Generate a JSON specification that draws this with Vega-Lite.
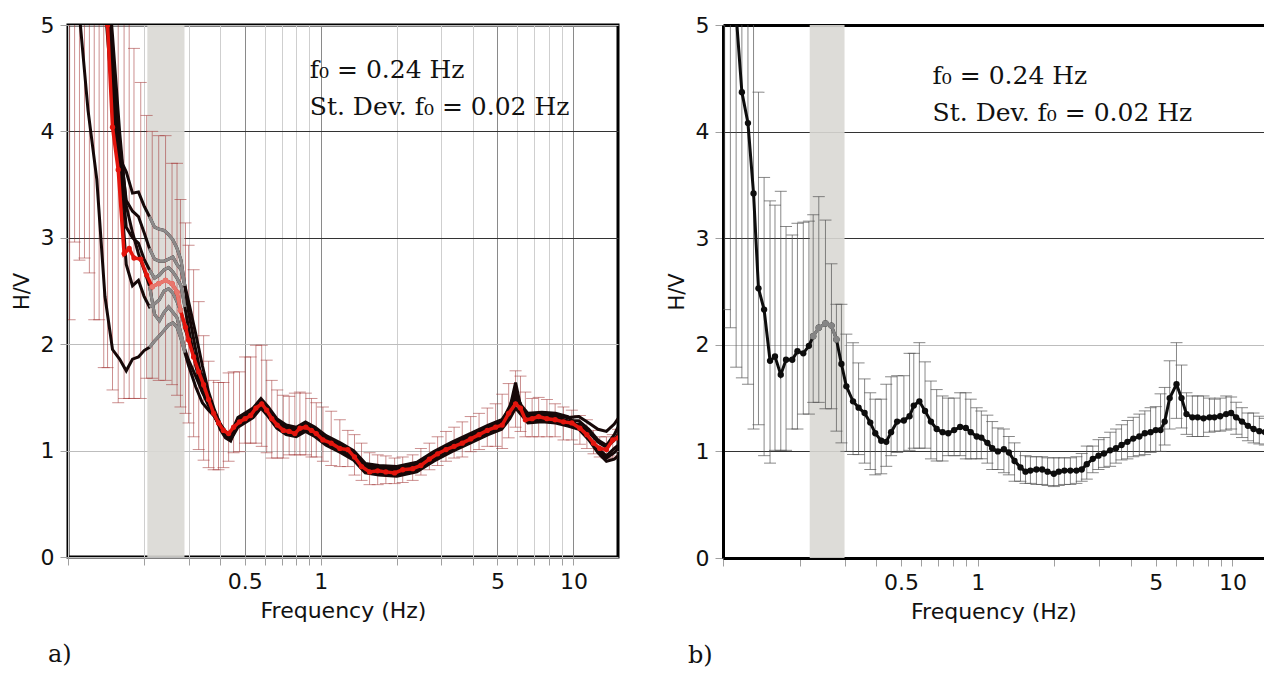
{
  "$schema": "https://vega.github.io/schema/vega-lite/v6.json",
  "background": "white",
  "padding": {"left": 9, "top": 12, "right": 0, "bottom": 5},
  "spacing": 46,
  "config": {
    "view": {"stroke": "black", "strokeWidth": 3},
    "axis": {
      "labelFont": "DejaVu Sans", "labelFontSize": 22, "labelColor": "#111",
      "titleFont": "DejaVu Sans", "titleFontSize": 22, "titleFontWeight": "normal", "titleColor": "#111",
      "gridWidth": 1, "tickColor": "#a0a0a0", "tickSize": 8
    }
  },
  "datasets": {
    "bandA": [{"lo": 0.206, "hi": 0.289}],
    "bandB": [{"lo": 0.219, "hi": 0.300}],
    "notesA": [
      {"f": 0.905, "hv": 4.50, "txt": "f₀ = 0.24 Hz"},
      {"f": 0.905, "hv": 4.15, "txt": "St. Dev. f₀ = 0.02 Hz"}
    ],
    "notesB": [
      {"f": 0.665, "hv": 4.45, "txt": "f₀ = 0.24 Hz"},
      {"f": 0.665, "hv": 4.10, "txt": "St. Dev. f₀ = 0.02 Hz"}
    ],
    "meanA": [
      {"f": 0.1015, "hv": 11, "lo": 2.23, "hi": 14},
      {"f": 0.1062, "hv": 10, "lo": 2.96, "hi": 13},
      {"f": 0.111, "hv": 9, "lo": 2.79, "hi": 12},
      {"f": 0.1162, "hv": 8, "lo": 2.81, "hi": 11},
      {"f": 0.1215, "hv": 7.5, "lo": 2.67, "hi": 10},
      {"f": 0.127, "hv": 7, "lo": 2.23, "hi": 9.5},
      {"f": 0.1328, "hv": 6.3, "lo": 2.23, "hi": 9},
      {"f": 0.1385, "hv": 5.6, "lo": 1.78, "hi": 8.5},
      {"f": 0.1434, "hv": 5.0, "lo": 1.78, "hi": 8},
      {"f": 0.150, "hv": 4.04, "lo": 1.57, "hi": 7},
      {"f": 0.158, "hv": 3.64, "lo": 1.45, "hi": 6.5},
      {"f": 0.1667, "hv": 2.85, "lo": 1.49, "hi": 5.5},
      {"f": 0.1746, "hv": 2.90, "lo": 1.49, "hi": 5.2},
      {"f": 0.1824, "hv": 2.81, "lo": 1.49, "hi": 4.78},
      {"f": 0.194, "hv": 2.80, "lo": 1.49, "hi": 4.46},
      {"f": 0.2047, "hv": 2.65, "lo": 1.68, "hi": 4.15},
      {"f": 0.2154, "hv": 2.54, "lo": 1.68, "hi": 4.0},
      {"f": 0.2285, "hv": 2.57, "lo": 1.66, "hi": 3.96},
      {"f": 0.2432, "hv": 2.60, "lo": 1.66, "hi": 3.96},
      {"f": 0.258, "hv": 2.57, "lo": 1.62, "hi": 3.70},
      {"f": 0.270, "hv": 2.49, "lo": 1.52, "hi": 3.70},
      {"f": 0.2786, "hv": 2.32, "lo": 1.41, "hi": 3.36},
      {"f": 0.2917, "hv": 2.16, "lo": 1.35, "hi": 3.14},
      {"f": 0.300, "hv": 2.04, "lo": 1.26, "hi": 2.93},
      {"f": 0.314, "hv": 1.88, "lo": 1.13, "hi": 2.70},
      {"f": 0.329, "hv": 1.74, "lo": 1.01, "hi": 2.40},
      {"f": 0.344, "hv": 1.62, "lo": 0.91, "hi": 2.08},
      {"f": 0.360, "hv": 1.48, "lo": 0.84, "hi": 1.84},
      {"f": 0.377, "hv": 1.35, "lo": 0.82, "hi": 1.66},
      {"f": 0.394, "hv": 1.26, "lo": 0.82, "hi": 1.64},
      {"f": 0.412, "hv": 1.19, "lo": 0.84, "hi": 1.64},
      {"f": 0.432, "hv": 1.16, "lo": 0.90, "hi": 1.73},
      {"f": 0.452, "hv": 1.22, "lo": 0.98, "hi": 1.74},
      {"f": 0.477, "hv": 1.27, "lo": 0.99, "hi": 1.74},
      {"f": 0.502, "hv": 1.30, "lo": 1.07, "hi": 1.88},
      {"f": 0.528, "hv": 1.33, "lo": 1.07, "hi": 1.88},
      {"f": 0.554, "hv": 1.40, "lo": 1.07, "hi": 1.99},
      {"f": 0.584, "hv": 1.44, "lo": 1.04, "hi": 1.99},
      {"f": 0.611, "hv": 1.38, "lo": 0.98, "hi": 1.85},
      {"f": 0.640, "hv": 1.30, "lo": 0.93, "hi": 1.66},
      {"f": 0.673, "hv": 1.24, "lo": 0.93, "hi": 1.57},
      {"f": 0.711, "hv": 1.19, "lo": 0.93, "hi": 1.52},
      {"f": 0.750, "hv": 1.18, "lo": 0.96, "hi": 1.51},
      {"f": 0.790, "hv": 1.16, "lo": 0.96, "hi": 1.54},
      {"f": 0.827, "hv": 1.21, "lo": 0.96, "hi": 1.55},
      {"f": 0.873, "hv": 1.22, "lo": 0.96, "hi": 1.54},
      {"f": 0.919, "hv": 1.19, "lo": 0.94, "hi": 1.49},
      {"f": 0.96, "hv": 1.16, "lo": 0.94, "hi": 1.45},
      {"f": 1.02, "hv": 1.10, "lo": 0.90, "hi": 1.41},
      {"f": 1.10, "hv": 1.07, "lo": 0.86, "hi": 1.37},
      {"f": 1.19, "hv": 1.02, "lo": 0.85, "hi": 1.29},
      {"f": 1.28, "hv": 1.01, "lo": 0.85, "hi": 1.19},
      {"f": 1.36, "hv": 0.94, "lo": 0.77, "hi": 1.15},
      {"f": 1.45, "hv": 0.85, "lo": 0.72, "hi": 1.07},
      {"f": 1.56, "hv": 0.80, "lo": 0.68, "hi": 0.98},
      {"f": 1.68, "hv": 0.81, "lo": 0.68, "hi": 0.96},
      {"f": 1.81, "hv": 0.80, "lo": 0.69, "hi": 0.95},
      {"f": 1.96, "hv": 0.79, "lo": 0.69, "hi": 0.93},
      {"f": 2.11, "hv": 0.82, "lo": 0.70, "hi": 0.94},
      {"f": 2.31, "hv": 0.83, "lo": 0.72, "hi": 0.96},
      {"f": 2.49, "hv": 0.86, "lo": 0.77, "hi": 1.02},
      {"f": 2.69, "hv": 0.92, "lo": 0.82, "hi": 1.07},
      {"f": 2.90, "hv": 0.97, "lo": 0.86, "hi": 1.13},
      {"f": 3.13, "hv": 1.01, "lo": 0.90, "hi": 1.18},
      {"f": 3.37, "hv": 1.04, "lo": 0.93, "hi": 1.22},
      {"f": 3.63, "hv": 1.07, "lo": 0.94, "hi": 1.27},
      {"f": 3.92, "hv": 1.11, "lo": 0.99, "hi": 1.32},
      {"f": 4.23, "hv": 1.15, "lo": 1.01, "hi": 1.35},
      {"f": 4.56, "hv": 1.19, "lo": 1.04, "hi": 1.40},
      {"f": 4.92, "hv": 1.22, "lo": 1.04, "hi": 1.44},
      {"f": 5.22, "hv": 1.24, "lo": 1.02, "hi": 1.53},
      {"f": 5.54, "hv": 1.35, "lo": 1.12, "hi": 1.63},
      {"f": 5.90, "hv": 1.44, "lo": 1.22, "hi": 1.75},
      {"f": 6.17, "hv": 1.40, "lo": 1.18, "hi": 1.70},
      {"f": 6.45, "hv": 1.29, "lo": 1.13, "hi": 1.55},
      {"f": 6.86, "hv": 1.30, "lo": 1.13, "hi": 1.49},
      {"f": 7.28, "hv": 1.32, "lo": 1.13, "hi": 1.50},
      {"f": 7.85, "hv": 1.30, "lo": 1.13, "hi": 1.48},
      {"f": 8.46, "hv": 1.29, "lo": 1.13, "hi": 1.44},
      {"f": 9.13, "hv": 1.27, "lo": 1.10, "hi": 1.41},
      {"f": 9.85, "hv": 1.26, "lo": 1.10, "hi": 1.38},
      {"f": 10.6, "hv": 1.21, "lo": 1.06, "hi": 1.33},
      {"f": 11.3, "hv": 1.15, "lo": 1.02, "hi": 1.29},
      {"f": 12.0, "hv": 1.07, "lo": 0.97, "hi": 1.19},
      {"f": 12.7, "hv": 1.02, "lo": 0.94, "hi": 1.13},
      {"f": 13.5, "hv": 1.01, "lo": 0.93, "hi": 1.13},
      {"f": 14.3, "hv": 1.10, "lo": 0.93, "hi": 1.15},
      {"f": 15.0, "hv": 1.12, "lo": 0.95, "hi": 1.20}
    ],
    "runsA": [
      {"run": "A", "f": 0.10, "hv": 6.5}, {"run": "A", "f": 0.11, "hv": 5.2}, {"run": "A", "f": 0.12, "hv": 4.2}, {"run": "A", "f": 0.13, "hv": 3.55},
      {"run": "A", "f": 0.14, "hv": 2.45}, {"run": "A", "f": 0.15, "hv": 1.95}, {"run": "A", "f": 0.16, "hv": 1.86}, {"run": "A", "f": 0.17, "hv": 1.75},
      {"run": "A", "f": 0.18, "hv": 1.86}, {"run": "A", "f": 0.19, "hv": 1.88}, {"run": "A", "f": 0.20, "hv": 1.94}, {"run": "A", "f": 0.21, "hv": 1.97},
      {"run": "A", "f": 0.22, "hv": 2.03}, {"run": "A", "f": 0.23, "hv": 2.08}, {"run": "A", "f": 0.24, "hv": 2.13}, {"run": "A", "f": 0.25, "hv": 2.18},
      {"run": "A", "f": 0.26, "hv": 2.20}, {"run": "A", "f": 0.27, "hv": 2.16}, {"run": "A", "f": 0.28, "hv": 2.05}, {"run": "A", "f": 0.29, "hv": 1.92},
      {"run": "A", "f": 0.30, "hv": 1.80}, {"run": "A", "f": 0.32, "hv": 1.60}, {"run": "A", "f": 0.34, "hv": 1.45}, {"run": "A", "f": 0.36, "hv": 1.38},
      {"run": "A", "f": 0.38, "hv": 1.32}, {"run": "A", "f": 0.40, "hv": 1.22}, {"run": "A", "f": 0.42, "hv": 1.15}, {"run": "A", "f": 0.44, "hv": 1.12},
      {"run": "A", "f": 0.47, "hv": 1.29}, {"run": "A", "f": 0.50, "hv": 1.33}, {"run": "A", "f": 0.54, "hv": 1.38}, {"run": "A", "f": 0.58, "hv": 1.47},
      {"run": "A", "f": 0.62, "hv": 1.39}, {"run": "A", "f": 0.67, "hv": 1.28}, {"run": "A", "f": 0.73, "hv": 1.22}, {"run": "A", "f": 0.80, "hv": 1.20},
      {"run": "A", "f": 0.87, "hv": 1.25}, {"run": "A", "f": 0.95, "hv": 1.20}, {"run": "A", "f": 1.05, "hv": 1.12}, {"run": "A", "f": 1.2, "hv": 1.05},
      {"run": "A", "f": 1.35, "hv": 0.98}, {"run": "A", "f": 1.5, "hv": 0.86}, {"run": "A", "f": 1.7, "hv": 0.84}, {"run": "A", "f": 2.0, "hv": 0.83},
      {"run": "A", "f": 2.4, "hv": 0.87}, {"run": "A", "f": 2.8, "hv": 0.97}, {"run": "A", "f": 3.3, "hv": 1.06}, {"run": "A", "f": 3.9, "hv": 1.14},
      {"run": "A", "f": 4.6, "hv": 1.22}, {"run": "A", "f": 5.2, "hv": 1.27}, {"run": "A", "f": 5.6, "hv": 1.42}, {"run": "A", "f": 5.9, "hv": 1.55},
      {"run": "A", "f": 6.2, "hv": 1.42}, {"run": "A", "f": 6.6, "hv": 1.33}, {"run": "A", "f": 7.5, "hv": 1.34}, {"run": "A", "f": 8.5, "hv": 1.33},
      {"run": "A", "f": 9.5, "hv": 1.31}, {"run": "A", "f": 10.5, "hv": 1.32}, {"run": "A", "f": 11.5, "hv": 1.26}, {"run": "A", "f": 12.5, "hv": 1.20},
      {"run": "A", "f": 13.5, "hv": 1.18}, {"run": "A", "f": 14.5, "hv": 1.25}, {"run": "A", "f": 15, "hv": 1.30},

      {"run": "B", "f": 0.10, "hv": 9}, {"run": "B", "f": 0.11, "hv": 8}, {"run": "B", "f": 0.12, "hv": 7}, {"run": "B", "f": 0.13, "hv": 6.1},
      {"run": "B", "f": 0.14, "hv": 5.3}, {"run": "B", "f": 0.15, "hv": 4.5}, {"run": "B", "f": 0.16, "hv": 3.75}, {"run": "B", "f": 0.17, "hv": 3.62},
      {"run": "B", "f": 0.18, "hv": 3.42}, {"run": "B", "f": 0.19, "hv": 3.43}, {"run": "B", "f": 0.20, "hv": 3.30}, {"run": "B", "f": 0.21, "hv": 3.20},
      {"run": "B", "f": 0.22, "hv": 3.10}, {"run": "B", "f": 0.23, "hv": 3.08}, {"run": "B", "f": 0.24, "hv": 3.07}, {"run": "B", "f": 0.25, "hv": 3.03},
      {"run": "B", "f": 0.26, "hv": 2.98}, {"run": "B", "f": 0.27, "hv": 2.90}, {"run": "B", "f": 0.28, "hv": 2.79}, {"run": "B", "f": 0.29, "hv": 2.55},
      {"run": "B", "f": 0.30, "hv": 2.30}, {"run": "B", "f": 0.32, "hv": 1.95}, {"run": "B", "f": 0.34, "hv": 1.65}, {"run": "B", "f": 0.36, "hv": 1.45},
      {"run": "B", "f": 0.38, "hv": 1.33}, {"run": "B", "f": 0.40, "hv": 1.22}, {"run": "B", "f": 0.42, "hv": 1.17}, {"run": "B", "f": 0.44, "hv": 1.14},
      {"run": "B", "f": 0.47, "hv": 1.23}, {"run": "B", "f": 0.50, "hv": 1.27}, {"run": "B", "f": 0.54, "hv": 1.32}, {"run": "B", "f": 0.58, "hv": 1.41},
      {"run": "B", "f": 0.62, "hv": 1.33}, {"run": "B", "f": 0.67, "hv": 1.22}, {"run": "B", "f": 0.73, "hv": 1.16}, {"run": "B", "f": 0.80, "hv": 1.14},
      {"run": "B", "f": 0.87, "hv": 1.19}, {"run": "B", "f": 0.95, "hv": 1.14}, {"run": "B", "f": 1.05, "hv": 1.06}, {"run": "B", "f": 1.2, "hv": 0.99},
      {"run": "B", "f": 1.35, "hv": 0.92}, {"run": "B", "f": 1.5, "hv": 0.80}, {"run": "B", "f": 1.7, "hv": 0.78}, {"run": "B", "f": 2.0, "hv": 0.77},
      {"run": "B", "f": 2.4, "hv": 0.81}, {"run": "B", "f": 2.8, "hv": 0.91}, {"run": "B", "f": 3.3, "hv": 1.00}, {"run": "B", "f": 3.9, "hv": 1.08},
      {"run": "B", "f": 4.6, "hv": 1.16}, {"run": "B", "f": 5.2, "hv": 1.21}, {"run": "B", "f": 5.6, "hv": 1.40}, {"run": "B", "f": 5.9, "hv": 1.64},
      {"run": "B", "f": 6.2, "hv": 1.40}, {"run": "B", "f": 6.6, "hv": 1.27}, {"run": "B", "f": 7.5, "hv": 1.28}, {"run": "B", "f": 8.5, "hv": 1.27},
      {"run": "B", "f": 9.5, "hv": 1.24}, {"run": "B", "f": 10.5, "hv": 1.25}, {"run": "B", "f": 11.5, "hv": 1.17}, {"run": "B", "f": 12.5, "hv": 1.08},
      {"run": "B", "f": 13.5, "hv": 1.03}, {"run": "B", "f": 14.5, "hv": 1.10}, {"run": "B", "f": 15, "hv": 1.15},

      {"run": "C", "f": 0.10, "hv": 9.5}, {"run": "C", "f": 0.11, "hv": 8.5}, {"run": "C", "f": 0.12, "hv": 7.5}, {"run": "C", "f": 0.13, "hv": 6.5},
      {"run": "C", "f": 0.14, "hv": 5.6}, {"run": "C", "f": 0.15, "hv": 4.8}, {"run": "C", "f": 0.16, "hv": 3.9}, {"run": "C", "f": 0.17, "hv": 3.35},
      {"run": "C", "f": 0.18, "hv": 3.25}, {"run": "C", "f": 0.19, "hv": 3.20}, {"run": "C", "f": 0.20, "hv": 3.05}, {"run": "C", "f": 0.21, "hv": 2.90},
      {"run": "C", "f": 0.22, "hv": 2.80}, {"run": "C", "f": 0.23, "hv": 2.78}, {"run": "C", "f": 0.24, "hv": 2.78}, {"run": "C", "f": 0.25, "hv": 2.80},
      {"run": "C", "f": 0.26, "hv": 2.82}, {"run": "C", "f": 0.27, "hv": 2.75}, {"run": "C", "f": 0.28, "hv": 2.70}, {"run": "C", "f": 0.29, "hv": 2.55},
      {"run": "C", "f": 0.30, "hv": 2.40}, {"run": "C", "f": 0.32, "hv": 2.10}, {"run": "C", "f": 0.34, "hv": 1.80}, {"run": "C", "f": 0.36, "hv": 1.55},
      {"run": "C", "f": 0.38, "hv": 1.38}, {"run": "C", "f": 0.40, "hv": 1.25}, {"run": "C", "f": 0.42, "hv": 1.18}, {"run": "C", "f": 0.44, "hv": 1.15},
      {"run": "C", "f": 0.47, "hv": 1.31}, {"run": "C", "f": 0.50, "hv": 1.35}, {"run": "C", "f": 0.54, "hv": 1.40}, {"run": "C", "f": 0.58, "hv": 1.49},
      {"run": "C", "f": 0.62, "hv": 1.41}, {"run": "C", "f": 0.67, "hv": 1.30}, {"run": "C", "f": 0.73, "hv": 1.24}, {"run": "C", "f": 0.80, "hv": 1.22},
      {"run": "C", "f": 0.87, "hv": 1.27}, {"run": "C", "f": 0.95, "hv": 1.22}, {"run": "C", "f": 1.05, "hv": 1.14}, {"run": "C", "f": 1.2, "hv": 1.07},
      {"run": "C", "f": 1.35, "hv": 1.00}, {"run": "C", "f": 1.5, "hv": 0.88}, {"run": "C", "f": 1.7, "hv": 0.86}, {"run": "C", "f": 2.0, "hv": 0.85},
      {"run": "C", "f": 2.4, "hv": 0.89}, {"run": "C", "f": 2.8, "hv": 0.99}, {"run": "C", "f": 3.3, "hv": 1.08}, {"run": "C", "f": 3.9, "hv": 1.16},
      {"run": "C", "f": 4.6, "hv": 1.24}, {"run": "C", "f": 5.2, "hv": 1.29}, {"run": "C", "f": 5.6, "hv": 1.40}, {"run": "C", "f": 5.9, "hv": 1.52},
      {"run": "C", "f": 6.2, "hv": 1.43}, {"run": "C", "f": 6.6, "hv": 1.35}, {"run": "C", "f": 7.5, "hv": 1.36}, {"run": "C", "f": 8.5, "hv": 1.35},
      {"run": "C", "f": 9.5, "hv": 1.32}, {"run": "C", "f": 10.5, "hv": 1.22}, {"run": "C", "f": 11.5, "hv": 1.12}, {"run": "C", "f": 12.5, "hv": 1.00},
      {"run": "C", "f": 13.5, "hv": 0.93}, {"run": "C", "f": 14.5, "hv": 0.98}, {"run": "C", "f": 15, "hv": 1.02},

      {"run": "D", "f": 0.10, "hv": 9}, {"run": "D", "f": 0.11, "hv": 8}, {"run": "D", "f": 0.12, "hv": 7.2}, {"run": "D", "f": 0.13, "hv": 6.3},
      {"run": "D", "f": 0.14, "hv": 5.4}, {"run": "D", "f": 0.15, "hv": 4.6}, {"run": "D", "f": 0.16, "hv": 3.8}, {"run": "D", "f": 0.17, "hv": 3.10},
      {"run": "D", "f": 0.18, "hv": 3.0}, {"run": "D", "f": 0.19, "hv": 2.95}, {"run": "D", "f": 0.20, "hv": 2.80}, {"run": "D", "f": 0.21, "hv": 2.70},
      {"run": "D", "f": 0.22, "hv": 2.62}, {"run": "D", "f": 0.23, "hv": 2.65}, {"run": "D", "f": 0.24, "hv": 2.70}, {"run": "D", "f": 0.25, "hv": 2.72},
      {"run": "D", "f": 0.26, "hv": 2.68}, {"run": "D", "f": 0.27, "hv": 2.62}, {"run": "D", "f": 0.28, "hv": 2.55}, {"run": "D", "f": 0.29, "hv": 2.35},
      {"run": "D", "f": 0.30, "hv": 2.15}, {"run": "D", "f": 0.32, "hv": 1.80}, {"run": "D", "f": 0.34, "hv": 1.55}, {"run": "D", "f": 0.36, "hv": 1.42},
      {"run": "D", "f": 0.38, "hv": 1.32}, {"run": "D", "f": 0.40, "hv": 1.22}, {"run": "D", "f": 0.42, "hv": 1.14}, {"run": "D", "f": 0.44, "hv": 1.10},
      {"run": "D", "f": 0.47, "hv": 1.22}, {"run": "D", "f": 0.50, "hv": 1.26}, {"run": "D", "f": 0.54, "hv": 1.31}, {"run": "D", "f": 0.58, "hv": 1.40},
      {"run": "D", "f": 0.62, "hv": 1.32}, {"run": "D", "f": 0.67, "hv": 1.21}, {"run": "D", "f": 0.73, "hv": 1.15}, {"run": "D", "f": 0.80, "hv": 1.13},
      {"run": "D", "f": 0.87, "hv": 1.18}, {"run": "D", "f": 0.95, "hv": 1.13}, {"run": "D", "f": 1.05, "hv": 1.05}, {"run": "D", "f": 1.2, "hv": 0.98},
      {"run": "D", "f": 1.35, "hv": 0.91}, {"run": "D", "f": 1.5, "hv": 0.79}, {"run": "D", "f": 1.7, "hv": 0.77}, {"run": "D", "f": 2.0, "hv": 0.76},
      {"run": "D", "f": 2.4, "hv": 0.80}, {"run": "D", "f": 2.8, "hv": 0.90}, {"run": "D", "f": 3.3, "hv": 0.99}, {"run": "D", "f": 3.9, "hv": 1.07},
      {"run": "D", "f": 4.6, "hv": 1.15}, {"run": "D", "f": 5.2, "hv": 1.20}, {"run": "D", "f": 5.6, "hv": 1.30}, {"run": "D", "f": 5.9, "hv": 1.40},
      {"run": "D", "f": 6.2, "hv": 1.34}, {"run": "D", "f": 6.6, "hv": 1.26}, {"run": "D", "f": 7.5, "hv": 1.27}, {"run": "D", "f": 8.5, "hv": 1.26},
      {"run": "D", "f": 9.5, "hv": 1.23}, {"run": "D", "f": 10.5, "hv": 1.20}, {"run": "D", "f": 11.5, "hv": 1.10}, {"run": "D", "f": 12.5, "hv": 0.98},
      {"run": "D", "f": 13.5, "hv": 0.90}, {"run": "D", "f": 14.5, "hv": 0.92}, {"run": "D", "f": 15, "hv": 0.95},

      {"run": "E", "f": 0.10, "hv": 9}, {"run": "E", "f": 0.11, "hv": 8}, {"run": "E", "f": 0.12, "hv": 7}, {"run": "E", "f": 0.13, "hv": 6.1},
      {"run": "E", "f": 0.14, "hv": 5.2}, {"run": "E", "f": 0.15, "hv": 4.3}, {"run": "E", "f": 0.16, "hv": 3.6}, {"run": "E", "f": 0.17, "hv": 2.75},
      {"run": "E", "f": 0.18, "hv": 2.55}, {"run": "E", "f": 0.19, "hv": 2.60}, {"run": "E", "f": 0.20, "hv": 2.45}, {"run": "E", "f": 0.21, "hv": 2.35},
      {"run": "E", "f": 0.22, "hv": 2.38}, {"run": "E", "f": 0.23, "hv": 2.42}, {"run": "E", "f": 0.24, "hv": 2.50}, {"run": "E", "f": 0.25, "hv": 2.52},
      {"run": "E", "f": 0.26, "hv": 2.48}, {"run": "E", "f": 0.27, "hv": 2.40}, {"run": "E", "f": 0.28, "hv": 2.30}, {"run": "E", "f": 0.29, "hv": 2.15},
      {"run": "E", "f": 0.30, "hv": 2.05}, {"run": "E", "f": 0.32, "hv": 1.85}, {"run": "E", "f": 0.34, "hv": 1.70}, {"run": "E", "f": 0.36, "hv": 1.50},
      {"run": "E", "f": 0.38, "hv": 1.35}, {"run": "E", "f": 0.40, "hv": 1.20}, {"run": "E", "f": 0.42, "hv": 1.12}, {"run": "E", "f": 0.44, "hv": 1.09},
      {"run": "E", "f": 0.47, "hv": 1.27}, {"run": "E", "f": 0.50, "hv": 1.31}, {"run": "E", "f": 0.54, "hv": 1.36}, {"run": "E", "f": 0.58, "hv": 1.45},
      {"run": "E", "f": 0.62, "hv": 1.37}, {"run": "E", "f": 0.67, "hv": 1.26}, {"run": "E", "f": 0.73, "hv": 1.20}, {"run": "E", "f": 0.80, "hv": 1.18},
      {"run": "E", "f": 0.87, "hv": 1.23}, {"run": "E", "f": 0.95, "hv": 1.18}, {"run": "E", "f": 1.05, "hv": 1.10}, {"run": "E", "f": 1.2, "hv": 1.03},
      {"run": "E", "f": 1.35, "hv": 0.96}, {"run": "E", "f": 1.5, "hv": 0.84}, {"run": "E", "f": 1.7, "hv": 0.82}, {"run": "E", "f": 2.0, "hv": 0.81},
      {"run": "E", "f": 2.4, "hv": 0.85}, {"run": "E", "f": 2.8, "hv": 0.95}, {"run": "E", "f": 3.3, "hv": 1.04}, {"run": "E", "f": 3.9, "hv": 1.12},
      {"run": "E", "f": 4.6, "hv": 1.20}, {"run": "E", "f": 5.2, "hv": 1.25}, {"run": "E", "f": 5.6, "hv": 1.38}, {"run": "E", "f": 5.9, "hv": 1.50},
      {"run": "E", "f": 6.2, "hv": 1.39}, {"run": "E", "f": 6.6, "hv": 1.31}, {"run": "E", "f": 7.5, "hv": 1.32}, {"run": "E", "f": 8.5, "hv": 1.31},
      {"run": "E", "f": 9.5, "hv": 1.28}, {"run": "E", "f": 10.5, "hv": 1.28}, {"run": "E", "f": 11.5, "hv": 1.20}, {"run": "E", "f": 12.5, "hv": 1.10},
      {"run": "E", "f": 13.5, "hv": 1.05}, {"run": "E", "f": 14.5, "hv": 1.15}, {"run": "E", "f": 15, "hv": 1.22},

      {"run": "F", "f": 0.10, "hv": 10}, {"run": "F", "f": 0.11, "hv": 9}, {"run": "F", "f": 0.12, "hv": 8}, {"run": "F", "f": 0.13, "hv": 6.8},
      {"run": "F", "f": 0.14, "hv": 5.8}, {"run": "F", "f": 0.15, "hv": 4.9}, {"run": "F", "f": 0.16, "hv": 4.0}, {"run": "F", "f": 0.17, "hv": 3.30},
      {"run": "F", "f": 0.18, "hv": 3.05}, {"run": "F", "f": 0.19, "hv": 2.85}, {"run": "F", "f": 0.20, "hv": 2.70}, {"run": "F", "f": 0.21, "hv": 2.55},
      {"run": "F", "f": 0.22, "hv": 2.28}, {"run": "F", "f": 0.23, "hv": 2.22}, {"run": "F", "f": 0.24, "hv": 2.30}, {"run": "F", "f": 0.25, "hv": 2.35},
      {"run": "F", "f": 0.26, "hv": 2.30}, {"run": "F", "f": 0.27, "hv": 2.25}, {"run": "F", "f": 0.28, "hv": 2.10}, {"run": "F", "f": 0.29, "hv": 1.95},
      {"run": "F", "f": 0.30, "hv": 1.85}, {"run": "F", "f": 0.32, "hv": 1.70}, {"run": "F", "f": 0.34, "hv": 1.55}, {"run": "F", "f": 0.36, "hv": 1.45},
      {"run": "F", "f": 0.38, "hv": 1.36}, {"run": "F", "f": 0.40, "hv": 1.25}, {"run": "F", "f": 0.42, "hv": 1.16}, {"run": "F", "f": 0.44, "hv": 1.12},
      {"run": "F", "f": 0.47, "hv": 1.24}, {"run": "F", "f": 0.50, "hv": 1.28}, {"run": "F", "f": 0.54, "hv": 1.33}, {"run": "F", "f": 0.58, "hv": 1.42},
      {"run": "F", "f": 0.62, "hv": 1.34}, {"run": "F", "f": 0.67, "hv": 1.23}, {"run": "F", "f": 0.73, "hv": 1.17}, {"run": "F", "f": 0.80, "hv": 1.15},
      {"run": "F", "f": 0.87, "hv": 1.20}, {"run": "F", "f": 0.95, "hv": 1.15}, {"run": "F", "f": 1.05, "hv": 1.07}, {"run": "F", "f": 1.2, "hv": 1.00},
      {"run": "F", "f": 1.35, "hv": 0.93}, {"run": "F", "f": 1.5, "hv": 0.81}, {"run": "F", "f": 1.7, "hv": 0.79}, {"run": "F", "f": 2.0, "hv": 0.78},
      {"run": "F", "f": 2.4, "hv": 0.82}, {"run": "F", "f": 2.8, "hv": 0.92}, {"run": "F", "f": 3.3, "hv": 1.01}, {"run": "F", "f": 3.9, "hv": 1.09},
      {"run": "F", "f": 4.6, "hv": 1.17}, {"run": "F", "f": 5.2, "hv": 1.22}, {"run": "F", "f": 5.6, "hv": 1.35}, {"run": "F", "f": 5.9, "hv": 1.47},
      {"run": "F", "f": 6.2, "hv": 1.37}, {"run": "F", "f": 6.6, "hv": 1.28}, {"run": "F", "f": 7.5, "hv": 1.29}, {"run": "F", "f": 8.5, "hv": 1.28},
      {"run": "F", "f": 9.5, "hv": 1.25}, {"run": "F", "f": 10.5, "hv": 1.21}, {"run": "F", "f": 11.5, "hv": 1.11}, {"run": "F", "f": 12.5, "hv": 1.02},
      {"run": "F", "f": 13.5, "hv": 0.95}, {"run": "F", "f": 14.5, "hv": 1.02}, {"run": "F", "f": 15, "hv": 1.05}
    ],
    "hvB": [
      {"f": 0.1015, "hv": 7.0, "lo": 2.33, "hi": 9},
      {"f": 0.1069, "hv": 6.0, "lo": 2.16, "hi": 9},
      {"f": 0.1126, "hv": 5.1, "lo": 1.79, "hi": 8},
      {"f": 0.1186, "hv": 4.37, "lo": 1.69, "hi": 7},
      {"f": 0.1253, "hv": 4.08, "lo": 1.63, "hi": 6.5},
      {"f": 0.1318, "hv": 3.42, "lo": 1.21, "hi": 5.5},
      {"f": 0.1378, "hv": 2.53, "lo": 1.25, "hi": 4.37},
      {"f": 0.145, "hv": 2.33, "lo": 0.96, "hi": 3.57},
      {"f": 0.153, "hv": 1.85, "lo": 0.89, "hi": 3.35},
      {"f": 0.160, "hv": 1.89, "lo": 1.01, "hi": 3.31},
      {"f": 0.1686, "hv": 1.72, "lo": 1.01, "hi": 3.44},
      {"f": 0.1768, "hv": 1.86, "lo": 1.01, "hi": 3.11},
      {"f": 0.187, "hv": 1.86, "lo": 1.21, "hi": 3.03},
      {"f": 0.196, "hv": 1.94, "lo": 1.21, "hi": 3.14},
      {"f": 0.2066, "hv": 1.92, "lo": 1.35, "hi": 3.15},
      {"f": 0.2174, "hv": 1.99, "lo": 1.35, "hi": 3.16},
      {"f": 0.226, "hv": 2.08, "lo": 1.46, "hi": 3.22},
      {"f": 0.2377, "hv": 2.16, "lo": 1.46, "hi": 3.39},
      {"f": 0.2525, "hv": 2.20, "lo": 1.40, "hi": 3.17},
      {"f": 0.2666, "hv": 2.18, "lo": 1.40, "hi": 2.76},
      {"f": 0.2788, "hv": 2.05, "lo": 1.19, "hi": 2.38},
      {"f": 0.2917, "hv": 1.82, "lo": 1.08, "hi": 2.38},
      {"f": 0.305, "hv": 1.61, "lo": 1.00, "hi": 2.10},
      {"f": 0.324, "hv": 1.47, "lo": 0.97, "hi": 2.02},
      {"f": 0.3406, "hv": 1.41, "lo": 0.97, "hi": 1.83},
      {"f": 0.3597, "hv": 1.36, "lo": 0.89, "hi": 1.68},
      {"f": 0.3785, "hv": 1.27, "lo": 0.83, "hi": 1.55},
      {"f": 0.396, "hv": 1.17, "lo": 0.78, "hi": 1.49},
      {"f": 0.418, "hv": 1.10, "lo": 0.79, "hi": 1.49},
      {"f": 0.4375, "hv": 1.09, "lo": 0.86, "hi": 1.63},
      {"f": 0.457, "hv": 1.18, "lo": 0.96, "hi": 1.70},
      {"f": 0.4827, "hv": 1.28, "lo": 0.99, "hi": 1.71},
      {"f": 0.513, "hv": 1.29, "lo": 1.00, "hi": 1.71},
      {"f": 0.540, "hv": 1.33, "lo": 1.01, "hi": 1.92},
      {"f": 0.561, "hv": 1.43, "lo": 1.03, "hi": 1.92},
      {"f": 0.590, "hv": 1.47, "lo": 1.03, "hi": 2.02},
      {"f": 0.621, "hv": 1.38, "lo": 1.03, "hi": 1.84},
      {"f": 0.655, "hv": 1.28, "lo": 0.93, "hi": 1.66},
      {"f": 0.690, "hv": 1.21, "lo": 0.91, "hi": 1.58},
      {"f": 0.728, "hv": 1.18, "lo": 0.91, "hi": 1.52},
      {"f": 0.766, "hv": 1.17, "lo": 0.96, "hi": 1.50},
      {"f": 0.808, "hv": 1.20, "lo": 0.96, "hi": 1.50},
      {"f": 0.853, "hv": 1.23, "lo": 0.96, "hi": 1.55},
      {"f": 0.898, "hv": 1.22, "lo": 0.93, "hi": 1.55},
      {"f": 0.939, "hv": 1.18, "lo": 0.93, "hi": 1.49},
      {"f": 0.991, "hv": 1.14, "lo": 0.93, "hi": 1.41},
      {"f": 1.033, "hv": 1.13, "lo": 0.93, "hi": 1.38},
      {"f": 1.091, "hv": 1.08, "lo": 0.89, "hi": 1.34},
      {"f": 1.14, "hv": 1.03, "lo": 0.83, "hi": 1.28},
      {"f": 1.20, "hv": 1.00, "lo": 0.83, "hi": 1.22},
      {"f": 1.267, "hv": 1.02, "lo": 0.80, "hi": 1.21},
      {"f": 1.325, "hv": 0.99, "lo": 0.78, "hi": 1.14},
      {"f": 1.395, "hv": 0.91, "lo": 0.72, "hi": 1.08},
      {"f": 1.472, "hv": 0.85, "lo": 0.72, "hi": 1.00},
      {"f": 1.54, "hv": 0.81, "lo": 0.70, "hi": 0.96},
      {"f": 1.61, "hv": 0.82, "lo": 0.70, "hi": 0.95},
      {"f": 1.70, "hv": 0.83, "lo": 0.69, "hi": 0.95},
      {"f": 1.79, "hv": 0.83, "lo": 0.69, "hi": 0.95},
      {"f": 1.88, "hv": 0.81, "lo": 0.68, "hi": 0.94},
      {"f": 1.99, "hv": 0.79, "lo": 0.67, "hi": 0.94},
      {"f": 2.08, "hv": 0.81, "lo": 0.68, "hi": 0.94},
      {"f": 2.19, "hv": 0.82, "lo": 0.69, "hi": 0.94},
      {"f": 2.31, "hv": 0.82, "lo": 0.69, "hi": 0.94},
      {"f": 2.44, "hv": 0.82, "lo": 0.70, "hi": 0.95},
      {"f": 2.56, "hv": 0.83, "lo": 0.72, "hi": 0.98},
      {"f": 2.68, "hv": 0.88, "lo": 0.74, "hi": 1.05},
      {"f": 2.83, "hv": 0.93, "lo": 0.80, "hi": 1.05},
      {"f": 2.98, "hv": 0.96, "lo": 0.83, "hi": 1.11},
      {"f": 3.13, "hv": 0.98, "lo": 0.85, "hi": 1.13},
      {"f": 3.31, "hv": 1.01, "lo": 0.86, "hi": 1.18},
      {"f": 3.49, "hv": 1.03, "lo": 0.89, "hi": 1.21},
      {"f": 3.67, "hv": 1.06, "lo": 0.92, "hi": 1.25},
      {"f": 3.87, "hv": 1.09, "lo": 0.93, "hi": 1.29},
      {"f": 4.08, "hv": 1.12, "lo": 0.95, "hi": 1.32},
      {"f": 4.31, "hv": 1.14, "lo": 0.96, "hi": 1.35},
      {"f": 4.53, "hv": 1.17, "lo": 0.97, "hi": 1.38},
      {"f": 4.77, "hv": 1.18, "lo": 0.99, "hi": 1.41},
      {"f": 5.00, "hv": 1.20, "lo": 1.00, "hi": 1.42},
      {"f": 5.22, "hv": 1.20, "lo": 1.00, "hi": 1.54},
      {"f": 5.42, "hv": 1.28, "lo": 1.06, "hi": 1.60},
      {"f": 5.67, "hv": 1.50, "lo": 1.21, "hi": 1.85},
      {"f": 6.03, "hv": 1.63, "lo": 1.31, "hi": 2.02},
      {"f": 6.31, "hv": 1.50, "lo": 1.22, "hi": 1.81},
      {"f": 6.6, "hv": 1.35, "lo": 1.16, "hi": 1.55},
      {"f": 6.96, "hv": 1.32, "lo": 1.14, "hi": 1.52},
      {"f": 7.3, "hv": 1.32, "lo": 1.14, "hi": 1.52},
      {"f": 7.7, "hv": 1.31, "lo": 1.14, "hi": 1.52},
      {"f": 8.13, "hv": 1.32, "lo": 1.18, "hi": 1.50},
      {"f": 8.5, "hv": 1.32, "lo": 1.19, "hi": 1.49},
      {"f": 8.95, "hv": 1.33, "lo": 1.19, "hi": 1.50},
      {"f": 9.45, "hv": 1.35, "lo": 1.20, "hi": 1.52},
      {"f": 9.88, "hv": 1.36, "lo": 1.21, "hi": 1.51},
      {"f": 10.34, "hv": 1.32, "lo": 1.16, "hi": 1.46},
      {"f": 10.9, "hv": 1.28, "lo": 1.13, "hi": 1.41},
      {"f": 11.5, "hv": 1.24, "lo": 1.10, "hi": 1.36},
      {"f": 12.1, "hv": 1.21, "lo": 1.08, "hi": 1.36},
      {"f": 12.75, "hv": 1.19, "lo": 1.07, "hi": 1.33},
      {"f": 13.4, "hv": 1.18, "lo": 1.06, "hi": 1.31},
      {"f": 14.1, "hv": 1.17, "lo": 1.05, "hi": 1.30}
    ]
  },
  "hconcat": [
    {
      "width": 550,
      "height": 532,
      "title": {"text": "a)", "orient": "bottom", "anchor": "start", "frame": "group", "font": "DejaVu Serif", "fontSize": 24, "fontWeight": "normal", "color": "#111", "dx": -20, "offset": 22},
      "layer": [
        {
          "data": {"name": "bandA"},
          "mark": {"type": "rect", "color": "#d9d8d4", "opacity": 0.9},
          "encoding": {
            "x": {"field": "lo", "type": "quantitative", "scale": {"type": "log", "domain": [0.1, 15], "nice": false}},
            "x2": {"field": "hi"}
          }
        },
        {
          "data": {"name": "meanA"},
          "mark": {"type": "rule", "color": "#a33434", "opacity": 0.55, "strokeWidth": 1, "clip": true},
          "encoding": {
            "x": {"field": "f", "type": "quantitative", "scale": {"type": "log", "domain": [0.1, 15], "nice": false},
              "axis": {"title": "Frequency (Hz)", "values": [0.1, 0.2, 0.3, 0.4, 0.5, 0.6, 0.7, 0.8, 0.9, 1, 2, 3, 4, 5, 6, 7, 8, 9, 10],
                "labelExpr": "datum.value == 0.5 || datum.value == 1 || datum.value == 5 || datum.value == 10 ? format(datum.value, '~g') : ''",
                "labelOverlap": false, "labelFlush": false, "domain": false, "labelPadding": 6, "titlePadding": 8,
                "gridColor": {"condition": {"test": "datum.value == 0.5 || datum.value == 5 || datum.value == 10 || datum.value == 1", "value": "#8a8a8a"}, "value": "#cfcfcf"}}},
            "y": {"field": "lo", "type": "quantitative", "scale": {"domain": [0, 5], "nice": false},
              "axis": {"title": "H/V", "values": [0, 1, 2, 3, 4, 5], "format": "d", "domain": false, "labelPadding": 6, "titlePadding": 8, "titleFontSize": 21,
                "gridColor": {"condition": {"test": "datum.value == 3 || datum.value == 4", "value": "#333333"}, "value": "#bdbdbd"}}},
            "y2": {"field": "hi"}
          }
        },
        {
          "data": {"name": "meanA"},
          "mark": {"type": "tick", "orient": "horizontal", "size": 12, "thickness": 1, "color": "#a33434", "opacity": 0.55, "clip": true},
          "encoding": {
            "x": {"field": "f", "type": "quantitative"},
            "y": {"field": "lo", "type": "quantitative"}
          }
        },
        {
          "data": {"name": "meanA"},
          "mark": {"type": "tick", "orient": "horizontal", "size": 12, "thickness": 1, "color": "#a33434", "opacity": 0.55, "clip": true},
          "encoding": {
            "x": {"field": "f", "type": "quantitative"},
            "y": {"field": "hi", "type": "quantitative"}
          }
        },
        {
          "data": {"name": "runsA"},
          "mark": {"type": "line", "color": "#160808", "strokeWidth": 3, "clip": true},
          "encoding": {
            "x": {"field": "f", "type": "quantitative"},
            "y": {"field": "hv", "type": "quantitative"},
            "detail": {"field": "run"}
          }
        },
        {
          "data": {"name": "runsA"},
          "transform": [{"filter": {"field": "f", "range": [0.205, 0.29]}}],
          "mark": {"type": "line", "color": "#8d8a8a", "strokeWidth": 3, "clip": true},
          "encoding": {
            "x": {"field": "f", "type": "quantitative"},
            "y": {"field": "hv", "type": "quantitative"},
            "detail": {"field": "run"}
          }
        },
        {
          "data": {"name": "meanA"},
          "mark": {"type": "line", "color": "#e3150d", "strokeWidth": 3.5, "clip": true},
          "encoding": {
            "x": {"field": "f", "type": "quantitative"},
            "y": {"field": "hv", "type": "quantitative"}
          }
        },
        {
          "data": {"name": "meanA"},
          "mark": {"type": "point", "filled": true, "opacity": 1, "size": 28, "color": "#e3150d", "clip": true},
          "encoding": {
            "x": {"field": "f", "type": "quantitative"},
            "y": {"field": "hv", "type": "quantitative"}
          }
        },
        {
          "data": {"name": "meanA"},
          "transform": [{"filter": {"field": "f", "range": [0.21, 0.285]}}],
          "mark": {"type": "line", "color": "#e8776d", "strokeWidth": 3.5, "clip": true},
          "encoding": {
            "x": {"field": "f", "type": "quantitative"},
            "y": {"field": "hv", "type": "quantitative"}
          }
        },
        {
          "data": {"name": "meanA"},
          "transform": [{"filter": {"field": "f", "range": [0.21, 0.285]}}],
          "mark": {"type": "point", "filled": true, "opacity": 1, "size": 28, "color": "#e8776d", "clip": true},
          "encoding": {
            "x": {"field": "f", "type": "quantitative"},
            "y": {"field": "hv", "type": "quantitative"}
          }
        },
        {
          "data": {"name": "notesA"},
          "mark": {"type": "text", "align": "left", "baseline": "alphabetic", "font": "DejaVu Serif", "fontSize": 25, "color": "#111"},
          "encoding": {
            "x": {"field": "f", "type": "quantitative"},
            "y": {"field": "hv", "type": "quantitative"},
            "text": {"field": "txt"}
          }
        }
      ]
    },
    {
      "width": 541,
      "height": 533,
      "view": {"stroke": null},
      "title": {"text": "b)", "orient": "bottom", "anchor": "start", "frame": "group", "font": "DejaVu Serif", "fontSize": 24, "fontWeight": "normal", "color": "#111", "dx": -35, "offset": 22},
      "resolve": {"axis": {"x": "independent"}},
      "layer": [
        {
          "data": {"name": "bandB"},
          "mark": {"type": "rect", "color": "#d9d8d4", "opacity": 0.9},
          "encoding": {
            "x": {"field": "lo", "type": "quantitative", "scale": {"type": "log", "domain": [0.1, 13.3], "nice": false}, "axis": null},
            "x2": {"field": "hi"}
          }
        },
        {
          "data": {"name": "hvB"},
          "mark": {"type": "rule", "color": "#555555", "opacity": 0.7, "strokeWidth": 1, "clip": true},
          "encoding": {
            "x": {"field": "f", "type": "quantitative", "scale": {"type": "log", "domain": [0.1, 13.3], "nice": false},
              "axis": {"title": "Frequency (Hz)", "values": [0.1, 0.2, 0.3, 0.4, 0.5, 0.6, 0.7, 0.8, 0.9, 1, 2, 3, 4, 5, 6, 7, 8, 9, 10],
                "labelExpr": "datum.value == 0.5 || datum.value == 1 || datum.value == 5 || datum.value == 10 ? format(datum.value, '~g') : ''",
                "labelOverlap": false, "labelFlush": false, "domain": true, "domainColor": "#000", "domainWidth": 3, "labelPadding": 6, "titlePadding": 8,
                "gridColor": {"condition": {"test": "datum.value == 0.5 || datum.value == 10", "value": "#222222"}, "value": "#c4c4c4"}}},
            "y": {"field": "lo", "type": "quantitative", "scale": {"domain": [0, 5], "nice": false},
              "axis": {"title": "H/V", "values": [0, 1, 2, 3, 4, 5], "format": "d", "domain": true, "domainColor": "#000", "domainWidth": 3, "labelPadding": 6, "titlePadding": 8, "titleFontSize": 21,
                "gridColor": {"condition": {"test": "datum.value == 1 || datum.value == 3 || datum.value == 4", "value": "#333333"}, "value": "#bdbdbd"}}},
            "y2": {"field": "hi"}
          }
        },
        {
          "data": {"name": "hvB"},
          "mark": {"type": "tick", "orient": "horizontal", "size": 12, "thickness": 1, "color": "#555555", "opacity": 0.7, "clip": true},
          "encoding": {
            "x": {"field": "f", "type": "quantitative", "axis": null},
            "y": {"field": "lo", "type": "quantitative"}
          }
        },
        {
          "data": {"name": "hvB"},
          "mark": {"type": "tick", "orient": "horizontal", "size": 12, "thickness": 1, "color": "#555555", "opacity": 0.7, "clip": true},
          "encoding": {
            "x": {"field": "f", "type": "quantitative", "axis": null},
            "y": {"field": "hi", "type": "quantitative"}
          }
        },
        {
          "data": {"name": "hvB"},
          "mark": {"type": "line", "color": "#0d0d0d", "strokeWidth": 3, "clip": true},
          "encoding": {
            "x": {"field": "f", "type": "quantitative", "axis": null},
            "y": {"field": "hv", "type": "quantitative"}
          }
        },
        {
          "data": {"name": "hvB"},
          "mark": {"type": "point", "filled": true, "opacity": 1, "size": 40, "color": "#0d0d0d", "clip": true},
          "encoding": {
            "x": {"field": "f", "type": "quantitative", "axis": null},
            "y": {"field": "hv", "type": "quantitative"}
          }
        },
        {
          "data": {"name": "hvB"},
          "transform": [{"filter": {"field": "f", "range": [0.22, 0.285]}}],
          "mark": {"type": "line", "color": "#858585", "strokeWidth": 3, "clip": true},
          "encoding": {
            "x": {"field": "f", "type": "quantitative", "axis": null},
            "y": {"field": "hv", "type": "quantitative"}
          }
        },
        {
          "data": {"name": "hvB"},
          "transform": [{"filter": {"field": "f", "range": [0.22, 0.285]}}],
          "mark": {"type": "point", "filled": true, "opacity": 1, "size": 40, "color": "#858585", "clip": true},
          "encoding": {
            "x": {"field": "f", "type": "quantitative", "axis": null},
            "y": {"field": "hv", "type": "quantitative"}
          }
        },
        {
          "data": {"name": "notesB"},
          "mark": {"type": "text", "align": "left", "baseline": "alphabetic", "font": "DejaVu Serif", "fontSize": 25, "color": "#111"},
          "encoding": {
            "x": {"field": "f", "type": "quantitative",
              "axis": {"orient": "top", "labels": false, "ticks": false, "grid": false, "title": null, "domain": true, "domainColor": "#000", "domainWidth": 3}},
            "y": {"field": "hv", "type": "quantitative"},
            "text": {"field": "txt"}
          }
        }
      ]
    }
  ]
}
